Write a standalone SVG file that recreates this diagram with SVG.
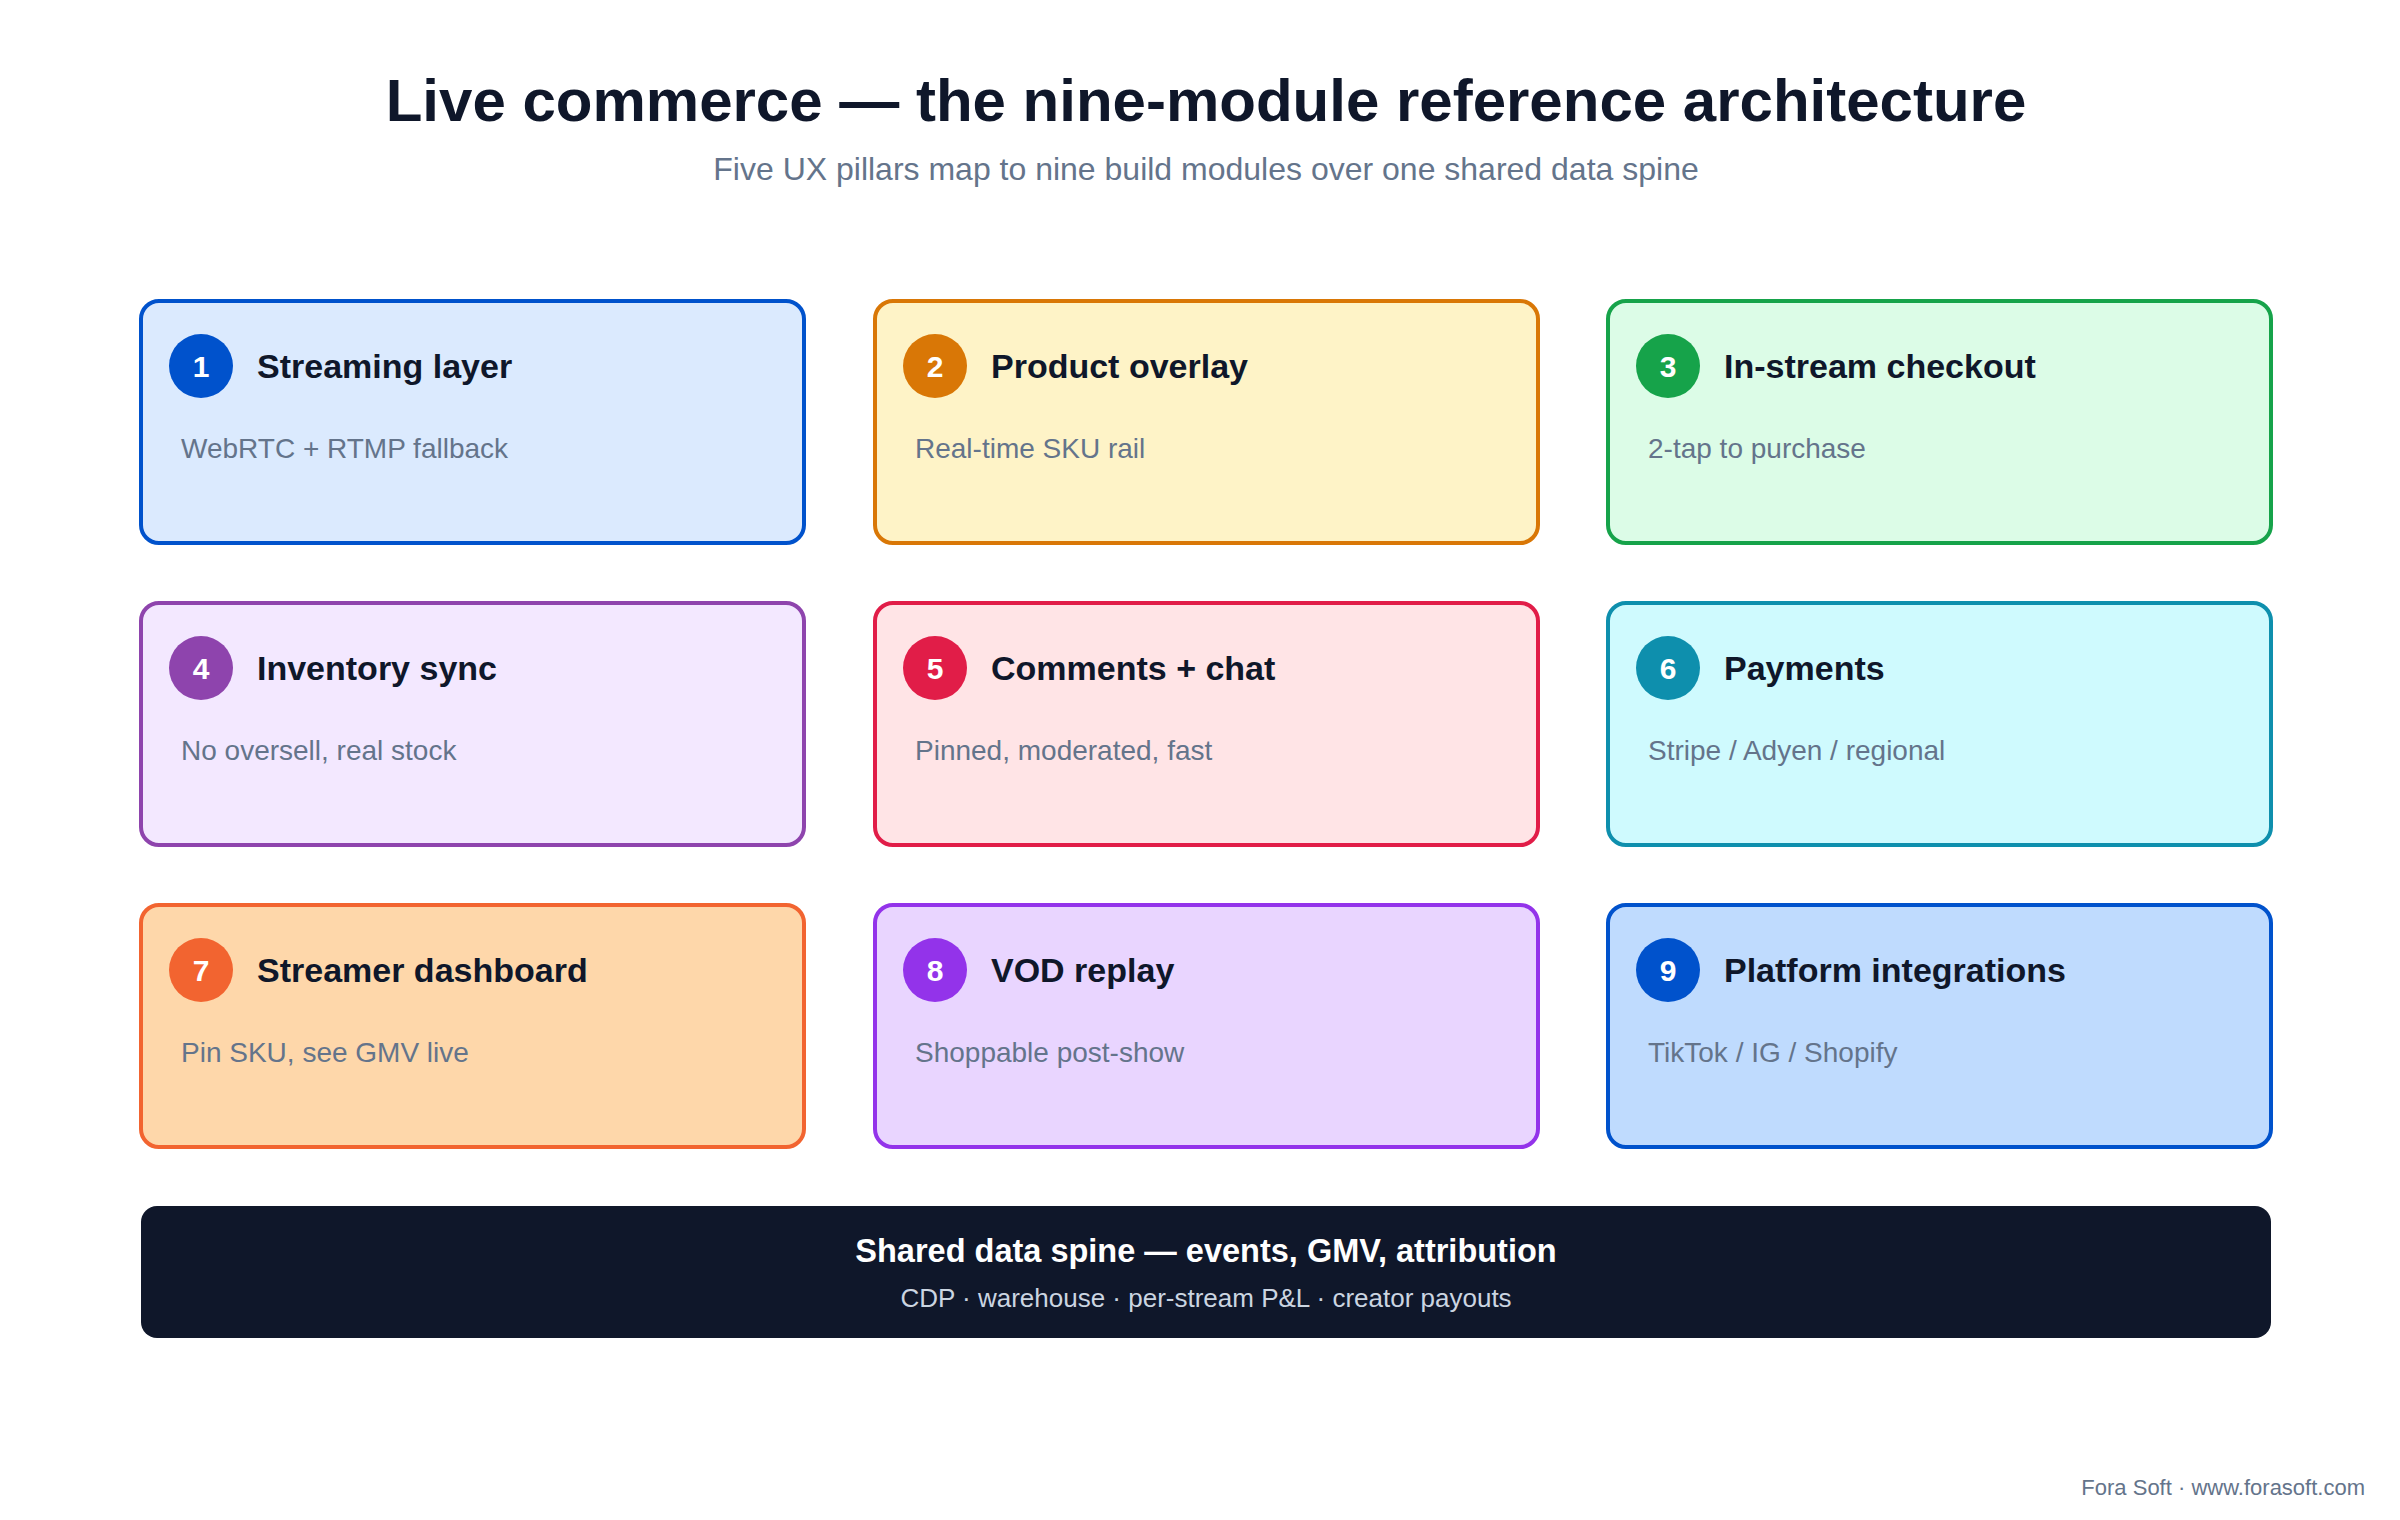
<svg xmlns="http://www.w3.org/2000/svg" width="2400" height="1520" viewBox="0 0 2400 1520">
<style>
text{font-family:"Liberation Sans",Arial,sans-serif}
.box{stroke-width:4}
.num{fill:#fff;font-weight:bold;font-size:30px;text-anchor:middle}
.t{fill:#0f172a;font-weight:bold;font-size:34px}
.d{fill:#64748b;font-size:28px}
</style>
<rect width="2400" height="1520" fill="#fff"/>
<text x="1206" y="121" text-anchor="middle" font-size="60" font-weight="bold" fill="#0f172a">Live commerce — the nine-module reference architecture</text>
<text x="1206" y="180" text-anchor="middle" font-size="32" fill="#64748b">Five UX pillars map to nine build modules over one shared data spine</text>
<g id="n1"><rect class="box" x="141" y="301" width="663" height="242" rx="18" fill="#dbeafe" stroke="#0052cc"/><circle cx="201" cy="366" r="32" fill="#0052cc"/><text class="num" x="201" y="377">1</text><text class="t" x="257" y="378">Streaming layer</text><text class="d" x="181" y="458">WebRTC + RTMP fallback</text></g>
<g id="n2"><rect class="box" x="875" y="301" width="663" height="242" rx="18" fill="#fef3c7" stroke="#d97706"/><circle cx="935" cy="366" r="32" fill="#d97706"/><text class="num" x="935" y="377">2</text><text class="t" x="991" y="378">Product overlay</text><text class="d" x="915" y="458">Real-time SKU rail</text></g>
<g id="n3"><rect class="box" x="1608" y="301" width="663" height="242" rx="18" fill="#dcfce7" stroke="#16a34a"/><circle cx="1668" cy="366" r="32" fill="#16a34a"/><text class="num" x="1668" y="377">3</text><text class="t" x="1724" y="378">In-stream checkout</text><text class="d" x="1648" y="458">2-tap to purchase</text></g>
<g id="n4"><rect class="box" x="141" y="603" width="663" height="242" rx="18" fill="#f3e8ff" stroke="#8e44ad"/><circle cx="201" cy="668" r="32" fill="#8e44ad"/><text class="num" x="201" y="679">4</text><text class="t" x="257" y="680">Inventory sync</text><text class="d" x="181" y="760">No oversell, real stock</text></g>
<g id="n5"><rect class="box" x="875" y="603" width="663" height="242" rx="18" fill="#ffe4e6" stroke="#e11d48"/><circle cx="935" cy="668" r="32" fill="#e11d48"/><text class="num" x="935" y="679">5</text><text class="t" x="991" y="680">Comments + chat</text><text class="d" x="915" y="760">Pinned, moderated, fast</text></g>
<g id="n6"><rect class="box" x="1608" y="603" width="663" height="242" rx="18" fill="#cffafe" stroke="#0e8fad"/><circle cx="1668" cy="668" r="32" fill="#0e8fad"/><text class="num" x="1668" y="679">6</text><text class="t" x="1724" y="680">Payments</text><text class="d" x="1648" y="760">Stripe / Adyen / regional</text></g>
<g id="n7"><rect class="box" x="141" y="905" width="663" height="242" rx="18" fill="#fed7aa" stroke="#f26430"/><circle cx="201" cy="970" r="32" fill="#f26430"/><text class="num" x="201" y="981">7</text><text class="t" x="257" y="982">Streamer dashboard</text><text class="d" x="181" y="1062">Pin SKU, see GMV live</text></g>
<g id="n8"><rect class="box" x="875" y="905" width="663" height="242" rx="18" fill="#e9d5ff" stroke="#9333ea"/><circle cx="935" cy="970" r="32" fill="#9333ea"/><text class="num" x="935" y="981">8</text><text class="t" x="991" y="982">VOD replay</text><text class="d" x="915" y="1062">Shoppable post-show</text></g>
<g id="n9"><rect class="box" x="1608" y="905" width="663" height="242" rx="18" fill="#bfdbfe" stroke="#0052cc"/><circle cx="1668" cy="970" r="32" fill="#0052cc"/><text class="num" x="1668" y="981">9</text><text class="t" x="1724" y="982">Platform integrations</text><text class="d" x="1648" y="1062">TikTok / IG / Shopify</text></g>
<g id="spine"><rect x="141" y="1206" width="2130" height="132" rx="16" fill="#0f172a"/><text x="1206" y="1262" text-anchor="middle" font-size="32.5" font-weight="bold" fill="#fff">Shared data spine — events, GMV, attribution</text><text x="1206" y="1307" text-anchor="middle" font-size="26" fill="#cbd5e1">CDP · warehouse · per-stream P&amp;L · creator payouts</text></g>
<g id="connectors"/>
<text x="2365" y="1495" text-anchor="end" font-size="22" fill="#64748b">Fora Soft · www.forasoft.com</text>
</svg>
